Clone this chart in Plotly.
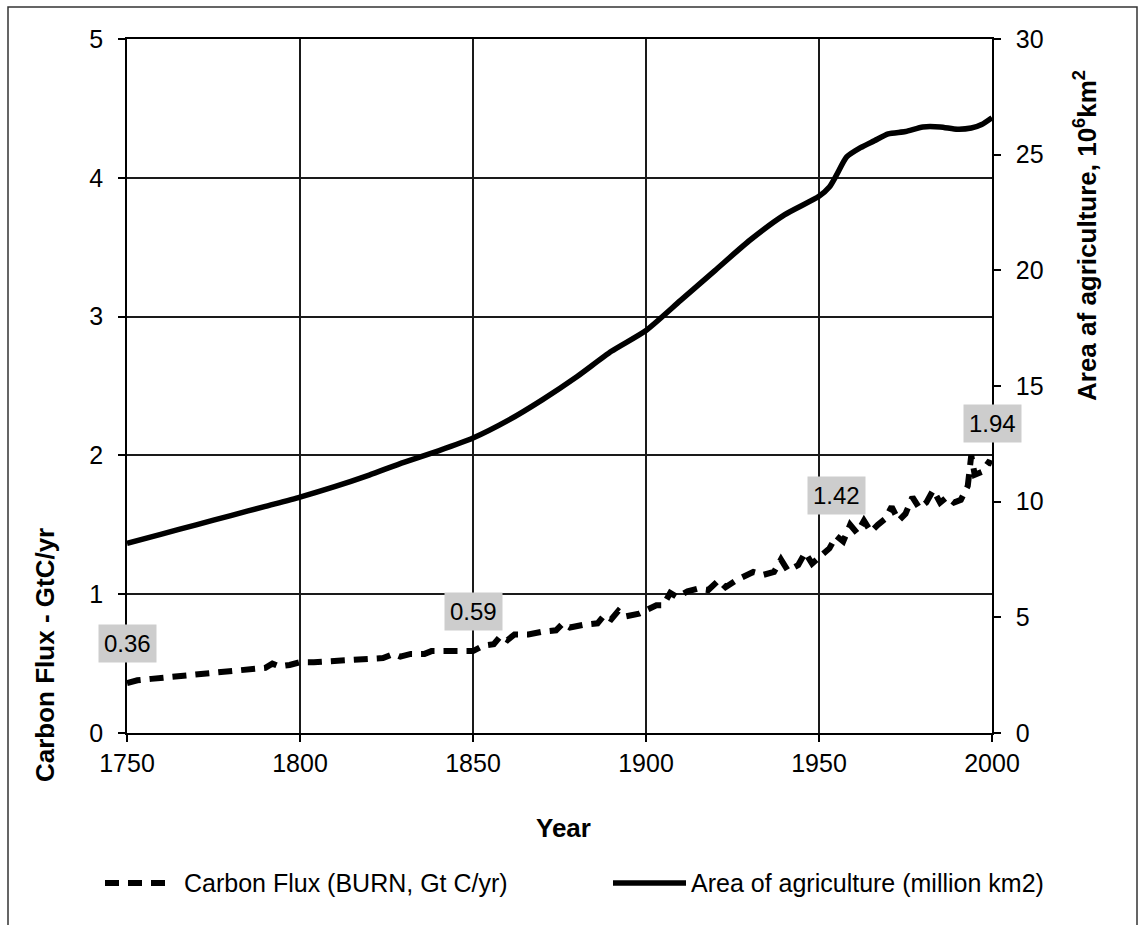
import plotly.graph_objects as go

# Carbon flux from burning (Gt C/yr)
flux_years = [1750, 1753, 1757, 1761, 1766, 1771, 1776, 1781, 1786, 1790, 1792, 1794, 1797,
              1800, 1804, 1809, 1814, 1819, 1824, 1827, 1829, 1832, 1836, 1838, 1842, 1846,
              1850, 1853, 1856, 1858, 1860, 1862, 1866, 1870, 1874, 1876, 1878, 1882, 1886,
              1888, 1890, 1892, 1894, 1898, 1900, 1903, 1905, 1907, 1909, 1912, 1915, 1918,
              1921, 1923, 1926, 1929, 1931, 1934, 1937, 1939, 1941, 1944, 1946, 1948, 1950,
              1953, 1955, 1957, 1959, 1961, 1963, 1965, 1967, 1969, 1971, 1973, 1975, 1977,
              1979, 1981, 1983, 1985, 1987, 1989, 1991, 1993, 1994, 1995, 1997, 1999, 2000]
flux_values = [0.36, 0.38, 0.39, 0.40, 0.41, 0.42, 0.43, 0.44, 0.46, 0.47, 0.50, 0.48, 0.49,
               0.51, 0.51, 0.52, 0.52, 0.53, 0.54, 0.57, 0.55, 0.57, 0.57, 0.59, 0.59, 0.59,
               0.59, 0.63, 0.64, 0.70, 0.67, 0.71, 0.71, 0.73, 0.74, 0.79, 0.76, 0.78, 0.79,
               0.85, 0.82, 0.88, 0.84, 0.86, 0.88, 0.92, 0.92, 1.01, 0.98, 1.02, 1.04, 1.03,
               1.10, 1.05, 1.10, 1.13, 1.16, 1.14, 1.16, 1.25, 1.17, 1.21, 1.30, 1.22, 1.27,
               1.33, 1.42, 1.38, 1.50, 1.44, 1.53, 1.45, 1.50, 1.54, 1.63, 1.53, 1.58, 1.70,
               1.62, 1.66, 1.75, 1.66, 1.70, 1.66, 1.68, 1.78, 2.00, 1.86, 1.88, 1.95, 1.94]

# Labelled flux values
label_years = [1750, 1850, 1955, 2000]
label_values = [0.36, 0.59, 1.42, 1.94]

# Area of agriculture (million km2)
area_years = [1750, 1760, 1770, 1780, 1790, 1800, 1810, 1820, 1830, 1840, 1850, 1860, 1870,
              1880, 1890, 1900, 1910, 1920, 1930, 1940, 1950, 1953, 1955, 1958, 1962, 1966,
              1970, 1975, 1980, 1985, 1990, 1994, 1997, 2000]
area_values = [8.2, 8.6, 9.0, 9.4, 9.8, 10.2, 10.65, 11.15, 11.7, 12.2, 12.75, 13.5, 14.4,
               15.4, 16.5, 17.4, 18.7, 20.0, 21.3, 22.4, 23.2, 23.6, 24.1, 24.9, 25.3, 25.6,
               25.9, 26.0, 26.2, 26.2, 26.1, 26.15, 26.3, 26.6]

flux_name = "Carbon Flux (BURN, Gt C/yr)"
area_name = "Area of agriculture (million km2)"

FONT = "Liberation Sans, Arial, Helvetica, sans-serif"
DASH = "14px,9px"

# plot-area geometry in page pixels
L, R, T, B = 127, 992, 39, 733
W, H = R - L, B - T


def px(x):
    return (x - L) / W


def py(y):
    return (B - y) / H


fig = go.Figure()

fig.add_trace(go.Scatter(
    x=flux_years, y=flux_values, name=flux_name, mode="lines",
    line=dict(color="black", width=6, dash=DASH),
    yaxis="y", showlegend=False, cliponaxis=False,
))
fig.add_trace(go.Scatter(
    x=area_years, y=area_values, name=area_name, mode="lines",
    line=dict(color="black", width=5.5, shape="spline", smoothing=0.6),
    yaxis="y2", showlegend=False, cliponaxis=False,
))

annotations = []
for yr, v in zip(label_years, label_values):
    annotations.append(dict(
        x=yr, y=v, xref="x", yref="y", text=f"{v:.2f}", showarrow=False,
        xanchor="center", yanchor="middle",
        yshift=40, bgcolor="#cdcdcd", borderpad=5,
        font=dict(family=FONT, size=24, color="black"),
    ))


def paper_text(x, y, text, size, angle=0, xanchor="center"):
    return dict(x=px(x), y=py(y), xref="paper", yref="paper", text=text,
                textangle=angle, showarrow=False, xanchor=xanchor, yanchor="middle",
                font=dict(family=FONT, size=size, color="black"))


# axis titles
annotations += [
    paper_text(563, 828, "<b>Year</b>", 26),
    paper_text(45, 655, "<b>Carbon Flux - GtC/yr</b>", 26, angle=-90),
    paper_text(1085, 236, "<b>Area af agriculture, 10<sup>6</sup>km<sup>2</sup></b>", 26, angle=-90),
]

# legend entries
LEG_Y = 883
annotations += [
    paper_text(182, LEG_Y, flux_name, 25, xanchor="left"),
    paper_text(689, LEG_Y, area_name, 25, xanchor="left"),
]

shapes = [
    dict(type="line", xref="paper", yref="paper", x0=px(105), x1=px(168),
         y0=py(LEG_Y), y1=py(LEG_Y), line=dict(color="black", width=6, dash=DASH)),
    dict(type="line", xref="paper", yref="paper", x0=px(613), x1=px(686),
         y0=py(LEG_Y), y1=py(LEG_Y), line=dict(color="black", width=5.5)),
    # outer chart frame
    dict(type="rect", xref="paper", yref="paper", x0=px(8), x1=px(1137), y0=py(940), y1=py(7),
         line=dict(color="#333333", width=1.5), layer="below"),
]

tickfont = dict(family=FONT, size=25, color="black")

fig.update_layout(
    width=1141, height=925,
    margin=dict(l=L, r=1141 - R, t=T, b=925 - B, autoexpand=False),
    paper_bgcolor="white", plot_bgcolor="white",
    showlegend=False,
    annotations=annotations, shapes=shapes,
    xaxis=dict(
        range=[1750, 2000], tick0=1750, dtick=50, tickfont=tickfont,
        showgrid=True, gridcolor="#1a1a1a", gridwidth=1.5,
        showline=True, linecolor="black", linewidth=1.5, mirror=True,
        ticks="outside", ticklen=7, tickwidth=1.5, tickcolor="black",
        zeroline=False, automargin=False, fixedrange=True,
    ),
    yaxis=dict(
        range=[0, 5], tick0=0, dtick=1, tickfont=tickfont,
        showgrid=True, gridcolor="#1a1a1a", gridwidth=1.5,
        showline=True, linecolor="black", linewidth=1.5, mirror=True,
        ticks="outside", ticklen=7, tickwidth=1.5, tickcolor="black",
        ticklabelstandoff=10,
        zeroline=False, automargin=False, fixedrange=True,
    ),
    yaxis2=dict(
        range=[0, 30], tick0=0, dtick=5, tickfont=tickfont,
        overlaying="y", side="right", showgrid=False,
        showline=True, linecolor="black", linewidth=1.5,
        ticks="outside", ticklen=7, tickwidth=1.5, tickcolor="black",
        ticklabelstandoff=10,
        zeroline=False, automargin=False, fixedrange=True,
    ),
)

fig.write_html("out.html")
